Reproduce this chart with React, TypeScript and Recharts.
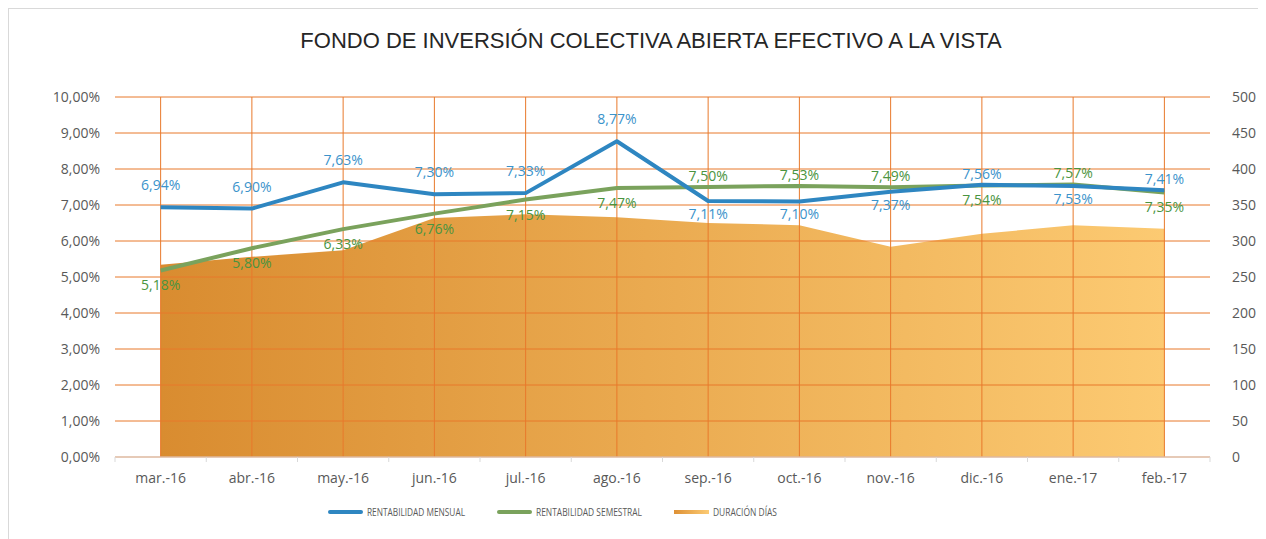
import React from 'react';
import { ComposedChart, Area, Line, XAxis, YAxis, CartesianGrid, LabelList, Legend } from 'recharts';

const categories = ['mar.-16', 'abr.-16', 'may.-16', 'jun.-16', 'jul.-16', 'ago.-16', 'sep.-16', 'oct.-16', 'nov.-16', 'dic.-16', 'ene.-17', 'feb.-17'];
const mensual = [6.94, 6.9, 7.63, 7.3, 7.33, 8.77, 7.11, 7.1, 7.37, 7.56, 7.53, 7.41];
const semestral = [5.18, 5.8, 6.33, 6.76, 7.15, 7.47, 7.5, 7.53, 7.49, 7.54, 7.57, 7.35];
const duracion = [267, 278, 287, 332, 337, 333, 325, 322, 292, 310, 322, 317];
const leftTicks = [0, 1, 2, 3, 4, 5, 6, 7, 8, 9, 10];
const rightTicks = [0, 50, 100, 150, 200, 250, 300, 350, 400, 450, 500];
const seriesNames = ['RENTABILIDAD MENSUAL', 'RENTABILIDAD SEMESTRAL', 'DURACIÓN DÍAS'];
const title = 'FONDO DE INVERSIÓN COLECTIVA ABIERTA EFECTIVO A LA VISTA';

const data = categories.map((month, i) => ({
  month,
  mensual: mensual[i],
  semestral: semestral[i],
  duracion: duracion[i],
}));

const W = 1250;
const H = 529;
const LEFT_W = 106;
const RIGHT_W = 49;
const PLOT_W = W - LEFT_W - RIGHT_W;
const BAND = PLOT_W / categories.length;

const BLUE = '#2E86C1';
const BLUE_TXT = '#3B93CB';
const GREEN = '#7AA25C';
const GREEN_TXT = '#4A9440';
const GRID = '#E8792B';
const AXIS_TXT = '#595959';
const FONT = '"Open Sans", Lato, sans-serif';

const fmtPct = (v: number) => v.toFixed(2).replace('.', ',') + '%';

const XTick = (props: any) => {
  const { x, y, payload } = props;
  const idx = payload?.index ?? props.index;
  return (
    <g>
      <line x1={x - BAND / 2} x2={x - BAND / 2} y1={y} y2={y + 5} stroke="#D9D9D9" />
      {idx === categories.length - 1 && (
        <line x1={x + BAND / 2} x2={x + BAND / 2} y1={y} y2={y + 5} stroke="#D9D9D9" />
      )}
      <text x={x} y={y + 21} dy="0.35em" textAnchor="middle" fill={AXIS_TXT} fontSize={14} fontFamily={FONT}>
        {payload.value}
      </text>
    </g>
  );
};

const makeLabel = (own: number[], other: number[], color: string, isMensual: boolean) => (props: any) => {
  const { x, y, index } = props;
  if (x == null || y == null || index == null) return null;
  const diff = own[index] - other[index];
  const above = isMensual ? diff >= 0 : diff > 0;
  let off: number;
  if (isMensual) off = above ? (Math.abs(diff) < 0.1 ? -11 : -22) : 13;
  else off = above ? -11 : 15;
  return (
    <text x={x} y={y + off} dy="0.35em" textAnchor="middle" fill={color} fontSize={14} fontFamily={FONT}>
      {fmtPct(own[index])}
    </text>
  );
};

const LegendContent = () => {
  const items = [
    { name: seriesNames[0], kind: 'line', color: BLUE, x: 319, textW: 98 },
    { name: seriesNames[1], kind: 'line', color: GREEN, x: 488, textW: 106 },
    { name: seriesNames[2], kind: 'area', color: '', x: 665, textW: 64 },
  ];
  return (
    <svg width={W} height={20} style={{ display: 'block' }}>
      <defs>
        <linearGradient id="legGrad" x1="0" y1="0" x2="1" y2="0">
          <stop offset="0" stopColor="#DE9135" />
          <stop offset="1" stopColor="#FCCB74" />
        </linearGradient>
      </defs>
      {items.map((it) => (
        <g key={it.name}>
          {it.kind === 'line' ? (
            <line x1={it.x + 2} x2={it.x + 33} y1={9} y2={9} stroke={it.color} strokeWidth={4} strokeLinecap="round" />
          ) : (
            <rect x={it.x} y={7} width={35} height={4} fill="url(#legGrad)" />
          )}
          <text
            x={it.x + 39}
            y={9}
            dy="0.36em"
            fontSize={11}
            fill={AXIS_TXT}
            fontFamily={FONT}
            textLength={it.textW}
            lengthAdjust="spacingAndGlyphs"
          >
            {it.name}
          </text>
        </g>
      ))}
    </svg>
  );
};

const verticalAtCategories = ({ offset }: any) =>
  categories.map((_, i) => offset.left + BAND / 2 + i * BAND);

export default function App() {
  return (
    <div
      style={{
        position: 'relative',
        width: 1270,
        height: 540,
        border: '1px solid #D9D9D9',
        background: '#fff',
        boxSizing: 'content-box',
      }}
    >
      <div
        style={{
          position: 'absolute',
          left: -8,
          top: 21,
          width: 1300,
          textAlign: 'center',
          fontFamily: '"Liberation Sans", Arial, sans-serif',
          fontSize: 22,
          lineHeight: 1,
          color: '#262626',
          whiteSpace: 'nowrap',
        }}
      >
        {title}
      </div>
      <ComposedChart width={W} height={H} data={data} margin={{ top: 88, right: 0, bottom: 51, left: 0 }}>
        <defs>
          <linearGradient id="areaGrad" x1="0" y1="0" x2="1" y2="0">
            <stop offset="0" stopColor="#D98C30" />
            <stop offset="1" stopColor="#FCCA72" />
          </linearGradient>
        </defs>
        <XAxis
          dataKey="month"
          axisLine={{ stroke: '#D9D9D9' }}
          tickLine={false}
          tickSize={0}
          tickMargin={0}
          height={30}
          tick={<XTick />}
          interval={0}
          padding={{ left: BAND / 2, right: BAND / 2 }}
        />
        <YAxis
          yAxisId="left"
          orientation="left"
          width={LEFT_W}
          domain={[0, 10]}
          ticks={leftTicks}
          tickFormatter={fmtPct}
          axisLine={false}
          tickLine={false}
          tickSize={0}
          tickMargin={15}
          tick={{ fill: AXIS_TXT, fontSize: 14, fontFamily: FONT }}
          interval={0}
        />
        <YAxis
          yAxisId="right"
          orientation="right"
          width={RIGHT_W}
          domain={[0, 500]}
          ticks={rightTicks}
          axisLine={false}
          tickLine={false}
          tickSize={0}
          tickMargin={22}
          tick={{ fill: AXIS_TXT, fontSize: 14, fontFamily: FONT, textAnchor: 'start' }}
          interval={0}
        />
        <Area
          yAxisId="right"
          type="linear"
          dataKey="duracion"
          name={seriesNames[2]}
          stroke="none"
          fill="url(#areaGrad)"
          fillOpacity={1}
          isAnimationActive={false}
        />
        <CartesianGrid
          yAxisId="left"
          stroke={GRID}
          strokeWidth={1}
          zIndex={150}
          verticalCoordinatesGenerator={verticalAtCategories}
        />
        <Line
          yAxisId="left"
          type="linear"
          dataKey="semestral"
          name={seriesNames[1]}
          stroke={GREEN}
          strokeWidth={4}
          dot={false}
          strokeLinejoin="round"
          isAnimationActive={false}
        >
          <LabelList dataKey="semestral" content={makeLabel(semestral, mensual, GREEN_TXT, false)} />
        </Line>
        <Line
          yAxisId="left"
          type="linear"
          dataKey="mensual"
          name={seriesNames[0]}
          stroke={BLUE}
          strokeWidth={4}
          dot={false}
          strokeLinejoin="round"
          isAnimationActive={false}
        >
          <LabelList dataKey="mensual" content={makeLabel(mensual, semestral, BLUE_TXT, true)} />
        </Line>
        <Legend
          layout="horizontal"
          verticalAlign="middle"
          align="center"
          wrapperStyle={{ top: 494, left: 0, width: W }}
          content={<LegendContent />}
        />
      </ComposedChart>
    </div>
  );
}
